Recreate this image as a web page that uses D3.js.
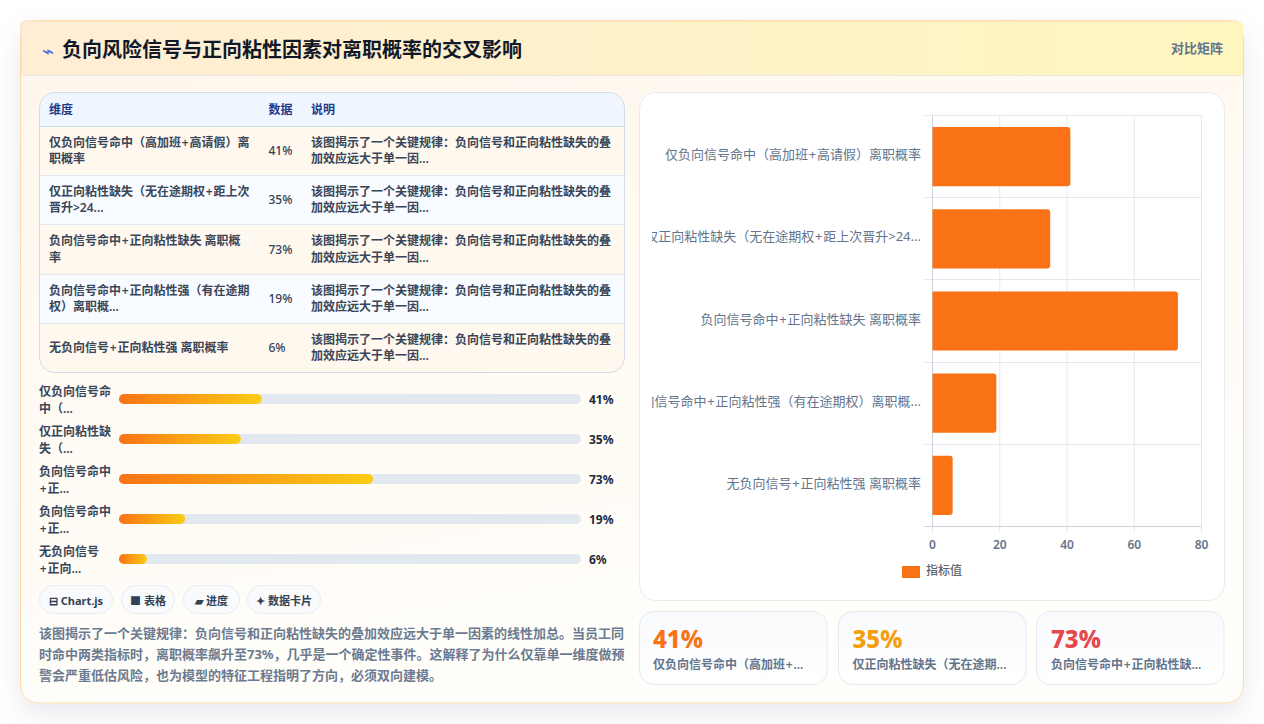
<!DOCTYPE html>
<html lang="zh-CN">
<head>
<meta charset="utf-8">
<title>负向风险信号与正向粘性因素对离职概率的交叉影响</title>
<script src="https://cdn.jsdelivr.net/npm/d3@7/dist/d3.min.js"></script>
<style>
  html, body { margin: 0; padding: 0; background: #fff; overflow: hidden; }
  svg { display: block; font-family: "Noto Sans", "Noto Sans CJK SC", sans-serif; }
  text { dominant-baseline: central; }
</style>
</head>
<body>
<svg id="board" width="1264" height="724"></svg>
<script>
// Retention data
const values = [41, 35, 73, 19, 6];
const categories = [
  "仅负向信号命中（高加班+高请假）离职概率",
  "仅正向粘性缺失（无在途期权+距上次晋升>24...",
  "负向信号命中+正向粘性缺失 离职概率",
  "负向信号命中+正向粘性强（有在途期权）离职概...",
  "无负向信号+正向粘性强 离职概率"
];
const tableDimension = [
  ["仅负向信号命中（高加班+高请假）离", "职概率"],
  ["仅正向粘性缺失（无在途期权+距上次", "晋升>24..."],
  ["负向信号命中+正向粘性缺失 离职概", "率"],
  ["负向信号命中+正向粘性强（有在途期", "权）离职概..."],
  ["无负向信号+正向粘性强 离职概率"]
];
const tableNote = ["该图揭示了一个关键规律：负向信号和正向粘性缺失的叠", "加效应远大于单一因..."];
const tableHeaders = ["维度", "数据", "说明"];
const progressLabels = [
  ["仅负向信号命", "中（..."],
  ["仅正向粘性缺", "失（..."],
  ["负向信号命中", "+正..."],
  ["负向信号命中", "+正..."],
  ["无负向信号", "+正向..."]
];
const pills = ["⊟ Chart.js", "■ 表格", "▰ 进度", "✦ 数据卡片"];
const summaryLines = [
  "该图揭示了一个关键规律：负向信号和正向粘性缺失的叠加效应远大于单一因素的线性加总。当员工同",
  "时命中两类指标时，离职概率飙升至73%，几乎是一个确定性事件。这解释了为什么仅靠单一维度做预",
  "警会严重低估风险，也为模型的特征工程指明了方向，必须双向建模。"
];
const statLabels = ["仅负向信号命中（高加班+...", "仅正向粘性缺失（无在途期...", "负向信号命中+正向粘性缺..."];
const statColors = ["#f97316", "#f59e0b", "#e5484d"];
const xTicks = [0, 20, 40, 60, 80];
const legendLabel = "指标值";
const titleText = "负向风险信号与正向粘性因素对离职概率的交叉影响";
const badgeText = "对比矩阵";

const svg = d3.select("#board");
const defs = svg.append("defs");

function gradient(id, stops, x2 = 1, y2 = 0) {
  const g = defs.append("linearGradient").attr("id", id)
    .attr("x1", 0).attr("y1", 0).attr("x2", x2).attr("y2", y2);
  stops.forEach(([o, c]) => g.append("stop").attr("offset", o).attr("stop-color", c));
}
gradient("headGrad", [[0, "#ffedd5"], [1, "#fef6bf"]]);
gradient("bodyGrad", [[0, "#fff6ec"], [1, "#fffefa"]], 0.35, 1);
gradient("fillGrad", [[0, "#f97316"], [1, "#facc15"]]);
gradient("statGrad", [[0, "#f8fafc"], [1, "#ffffff"]], 0, 1);

const shadow = defs.append("filter").attr("id", "cardShadow")
  .attr("x", "-10%").attr("y", "-10%").attr("width", "120%").attr("height", "125%");
shadow.append("feDropShadow").attr("dx", 0).attr("dy", 10).attr("stdDeviation", 14)
  .attr("flood-color", "#0f172a").attr("flood-opacity", 0.09);

// Plus signs get a little air on each side so mixed CJK and Latin strings sit evenly.
function addText(parent, x, y, str, size, weight, fill, anchor = "start") {
  const node = parent.append("text").attr("x", x).attr("y", y)
    .attr("font-size", size).attr("font-weight", weight)
    .attr("fill", fill).attr("text-anchor", anchor);
  const parts = String(str).split("+");
  parts.forEach((part, i) => {
    if (i > 0) node.append("tspan").attr("dx", 0.8).text("+");
    const seg = node.append("tspan").text(part);
    if (i > 0) seg.attr("dx", 0.8);
  });
  return node;
}

// Outer card with its header band
svg.append("rect").attr("x", 20.5).attr("y", 20.5).attr("width", 1223).attr("height", 682.5)
  .attr("rx", 18).attr("fill", "url(#bodyGrad)").attr("stroke", "#fbdcae")
  .attr("filter", "url(#cardShadow)");
svg.append("path").attr("d", "M21 25 Q21 21 27 21 L1238 21 Q1243 21 1243 26 L1243 75 L21 75 Z")
  .attr("fill", "url(#headGrad)");
svg.append("line").attr("x1", 21).attr("x2", 1243).attr("y1", 75.5).attr("y2", 75.5)
  .attr("stroke", "#e9e8e2");
svg.append("path").attr("d", "M21 75 L21 25 Q21 21 27 21 L1238 21").attr("fill", "none").attr("stroke", "#fbdcae");
addText(svg, 47.5, 50, "⌁", 20, 400, "#4f6bd8", "middle");
addText(svg, 62, 49, titleText, 20, 700, "#111827");
addText(svg, 1223, 47.5, badgeText, 13, 600, "#64748b", "end");

// Comparison table
const tbl = svg.append("g");
const tableX = 40, tableW = 584;
const rowEdges = [93, 126, 175, 224, 274, 323, 372];
const colX = [49, 268.5, 311];
const tableClip = defs.append("clipPath").attr("id", "tableClip");
tableClip.append("rect").attr("x", tableX).attr("y", 93).attr("width", tableW).attr("height", 279).attr("rx", 15);
const rowsLayer = tbl.append("g").attr("clip-path", "url(#tableClip)");
rowsLayer.selectAll("rect").data(d3.pairs(rowEdges)).join("rect")
  .attr("x", tableX).attr("width", tableW)
  .attr("y", d => d[0]).attr("height", d => d[1] - d[0])
  .attr("fill", (d, i) => i === 0 ? "#eff6ff" : (i % 2 ? "#fff8ee" : "#f8fbff"));
rowsLayer.selectAll("line").data(rowEdges.slice(1, -1)).join("line")
  .attr("x1", tableX).attr("x2", tableX + tableW)
  .attr("y1", d => d + 0.5).attr("y2", d => d + 0.5)
  .attr("stroke", (d, i) => i === 0 ? "#cfdae8" : "#e2e8f0");
tbl.append("rect").attr("x", tableX - 0.5).attr("y", 92.5).attr("width", tableW + 1).attr("height", 280)
  .attr("rx", 15).attr("fill", "none").attr("stroke", "#d3dbe6");
tableHeaders.forEach((h, i) => addText(tbl, colX[i], 109, h, 12, 700, "#1e3a8a"));
values.forEach((v, i) => {
  const cy = (rowEdges[i + 1] + rowEdges[i + 2]) / 2 - 0.5;
  const lines = tableDimension[i];
  lines.forEach((ln, k) => addText(tbl, colX[0], cy + (k - (lines.length - 1) / 2) * 16.5, ln, 12, 600, "#3a4658"));
  addText(tbl, colX[1], cy, v + "%", 12, 500, "#334155");
  tableNote.forEach((ln, k) => addText(tbl, colX[2], cy + (k - 0.5) * 16.5, ln, 12, 600, "#3a4658"));
});

// Progress bars
const trackX = 119, trackW = 462, trackY = 394, trackStep = 40, trackH = 10;
const progress = d3.scaleLinear().domain([0, 132.7]).range([0, trackW]);
const minFill = 28;
const prog = svg.append("g");
const progRows = prog.selectAll("g").data(values).join("g")
  .attr("transform", (d, i) => `translate(0,${trackY + i * trackStep})`);
progRows.append("rect").attr("x", trackX).attr("width", trackW).attr("height", trackH)
  .attr("rx", 5).attr("fill", "#e2e8f0");
progRows.append("rect").attr("x", trackX).attr("height", trackH).attr("rx", 5)
  .attr("width", d => Math.max(minFill, progress(d))).attr("fill", "url(#fillGrad)");
progRows.each(function (d, i) {
  const row = d3.select(this);
  progressLabels[i].forEach((ln, k) => addText(row, 39, -3.5 + k * 17, ln, 12, 600, "#3a4658"));
  addText(row, 589, 5, d + "%", 12, 700, "#1e293b");
});

// Technology pills
const pillX = [39.5, 121.5, 183.5, 247.5], pillW = [73, 53, 56, 73];
pills.forEach((p, i) => {
  svg.append("rect").attr("x", pillX[i]).attr("y", 585.5).attr("width", pillW[i]).attr("height", 28)
    .attr("rx", 14).attr("fill", "#f8fafc").attr("stroke", "#e6ebf2");
  addText(svg, pillX[i] + pillW[i] / 2, 599.5, p, 11, 700, "#334155", "middle");
});

// Summary paragraph
summaryLines.forEach((ln, i) => addText(svg, 39, 633 + i * 21, ln, 13, 700, "#6b7a90"));

// Horizontal bar chart
const panel = svg.append("g");
panel.append("rect").attr("x", 639.5).attr("y", 92.5).attr("width", 585).attr("height", 508)
  .attr("rx", 16).attr("fill", "#fff").attr("stroke", "#e7ebf1");
const plot = { left: 932.5, right: 1201.5, top: 115, bottom: 526 };
const x = d3.scaleLinear().domain([0, 80]).range([plot.left, plot.right]);
const y = d3.scaleBand().domain(categories).range([plot.top + 0.5, plot.bottom + 0.5]).paddingInner(0.28).paddingOuter(0.14);
const band = d3.scaleBand().domain(categories).range([plot.top, plot.bottom]);

const grid = panel.append("g").attr("stroke", "#e5e9ef");
grid.selectAll("line.v").data(xTicks).join("line").attr("class", "v")
  .attr("x1", d => x(d)).attr("x2", d => x(d)).attr("y1", plot.top).attr("y2", plot.bottom + 7);
const yEdges = [plot.top, ...categories.map(c => band(c) + band.bandwidth())];
grid.selectAll("line.h").data(yEdges).join("line").attr("class", "h")
  .attr("x1", plot.left - 8).attr("x2", plot.right)
  .attr("y1", d => Math.round(d) + 0.5).attr("y2", d => Math.round(d) + 0.5);
panel.append("line").attr("x1", plot.left - 8).attr("x2", plot.right)
  .attr("y1", plot.bottom + 0.5).attr("y2", plot.bottom + 0.5).attr("stroke", "#cbd2dc");
panel.append("line").attr("x1", plot.left).attr("x2", plot.left)
  .attr("y1", plot.top).attr("y2", plot.bottom).attr("stroke", "#cbd2dc");

panel.selectAll("path.bar").data(values).join("path").attr("class", "bar")
  .attr("fill", "#f97316")
  .attr("d", (d, i) => {
    const t = y(categories[i]), h = y.bandwidth(), l = x(0), r = x(d), c = 3;
    return `M${l} ${t}H${r - c}Q${r} ${t} ${r} ${t + c}V${t + h - c}Q${r} ${t + h} ${r - c} ${t + h}H${l}Z`;
  });

const labelClip = defs.append("clipPath").attr("id", "labelClip");
labelClip.append("rect").attr("x", 652).attr("y", plot.top - 10).attr("width", 280).attr("height", 430);
const yLabels = panel.append("g").attr("clip-path", "url(#labelClip)");
categories.forEach(c => addText(yLabels, 921, band(c) + band.bandwidth() / 2 - 2, c, 13, 400, "#64748b", "end"));

xTicks.forEach(t => addText(panel, x(t), 543.5, t, 12, 600, "#64748b", "middle"));
panel.append("rect").attr("x", 902).attr("y", 566).attr("width", 18).attr("height", 12).attr("fill", "#f97316");
addText(panel, 926, 570, legendLabel, 12, 500, "#5f6670");

// Headline stat cards
const statX = [639.5, 838.5, 1036.5], statW = 187.5, statTextX = [653, 852.5, 1051];
statLabels.forEach((lab, i) => {
  svg.append("rect").attr("x", statX[i]).attr("y", 611.5).attr("width", statW).attr("height", 73)
    .attr("rx", 14).attr("fill", "url(#statGrad)").attr("stroke", "#e2eaf3");
  addText(svg, statTextX[i], 637.5, values[i] + "%", 24, 800, statColors[i]);
  addText(svg, statTextX[i], 663.5, lab, 12, 600, "#64748b");
});
</script>
</body>
</html>
